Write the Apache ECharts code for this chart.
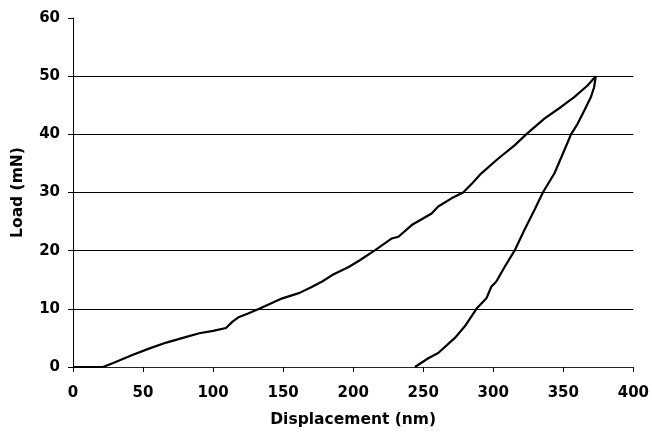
<!DOCTYPE html>
<html>
<head>
<meta charset="utf-8">
<script src="https://cdn.jsdelivr.net/npm/echarts@6/dist/echarts.min.js"></script>
<style>html,body{margin:0;padding:0;background:#fff}#c{width:652px;height:436px}</style>
</head>
<body>
<div id="c"></div>
<script>
const xTicks = [0, 50, 100, 150, 200, 250, 300, 350, 400];
const yTicks = [0, 10, 20, 30, 40, 50, 60];
const gridLevels = [10, 20, 30, 40, 50];

const loadX = [0, 10, 21.5, 30, 42.8, 54.7, 66.6, 78.4, 90.2, 100, 109.2, 113.9, 118.6, 125, 132.9, 140, 149.4, 161.3, 170, 177.9, 185, 196.8, 205, 215.7, 227.6, 232.3, 241.8, 256, 260.7, 270.2, 278.5, 285, 291.5, 303.4, 315.2, 323.5, 336.5, 348.4, 357.8, 367.3, 373.2];
const loadY = [0, 0, 0, 0.8, 2.1, 3.2, 4.2, 5.0, 5.8, 6.2, 6.7, 7.8, 8.6, 9.2, 10.0, 10.8, 11.8, 12.7, 13.7, 14.7, 15.8, 17.2, 18.4, 20.1, 22.1, 22.4, 24.4, 26.4, 27.6, 29.0, 30.0, 31.6, 33.3, 35.8, 38.1, 40.0, 42.7, 44.7, 46.4, 48.4, 50.0];

const unloadX = [373.2, 372, 369.7, 365, 360.2, 355.5, 350.8, 343.7, 335.4, 329.4, 322.3, 315.2, 308.1, 302.2, 298.6, 295.1, 288, 279.7, 272.6, 260.7, 253.6, 244.1];
const unloadY = [50.0, 48.1, 46.4, 44.1, 41.8, 40.0, 37.3, 33.3, 30.0, 27.0, 23.6, 20.0, 17.2, 14.7, 13.8, 11.8, 10.0, 7.0, 5.0, 2.4, 1.5, 0];

const pair = (xs, ys) => xs.map((x, i) => [x, ys[i]]);
const tickFont = {fontFamily: 'DejaVu Sans', fontWeight: 'bold', fontSize: 15, color: '#000'};
const nameFont = {fontFamily: 'DejaVu Sans', fontWeight: 'bold', fontSize: 15.5, color: '#000'};

const chart = echarts.init(document.getElementById('c'), null, {renderer: 'canvas'});
chart.setOption({
  animation: false,
  backgroundColor: '#fff',
  grid: {left: 73, right: 16, top: 18, bottom: 69, containLabel: false},
  xAxis: {
    type: 'value', min: xTicks[0], max: xTicks[xTicks.length - 1], interval: 50,
    name: 'Displacement (nm)', nameLocation: 'middle', nameGap: 45, nameTextStyle: nameFont,
    axisLine: {show: true, lineStyle: {color: '#222', width: 1}},
    axisTick: {show: true, inside: false, length: 5, lineStyle: {color: '#000'}},
    axisLabel: Object.assign({margin: 19}, tickFont),
    splitLine: {show: false}
  },
  yAxis: {
    type: 'value', min: yTicks[0], max: yTicks[yTicks.length - 1], interval: 10,
    name: 'Load (mN)', nameLocation: 'middle', nameGap: 47, nameRotate: 90, nameTextStyle: nameFont,
    axisLine: {show: true, lineStyle: {color: '#000', width: 1}},
    axisTick: {show: true, inside: false, length: 5, lineStyle: {color: '#000'}},
    axisLabel: Object.assign({margin: 13}, tickFont),
    splitLine: {show: false}
  },
  series: [
    {
      type: 'line', data: pair(loadX, loadY), showSymbol: false, symbol: 'none',
      lineStyle: {color: '#000', width: 2.2}, z: 3,
      markLine: {
        silent: true, symbol: 'none', label: {show: false},
        lineStyle: {color: '#000', width: 1, type: 'solid'},
        data: gridLevels.map(v => ({yAxis: v}))
      }
    },
    {
      type: 'line', data: pair(unloadX, unloadY), showSymbol: false, symbol: 'none',
      lineStyle: {color: '#000', width: 2.2}, z: 3
    }
  ]
});
</script>
</body>
</html>
